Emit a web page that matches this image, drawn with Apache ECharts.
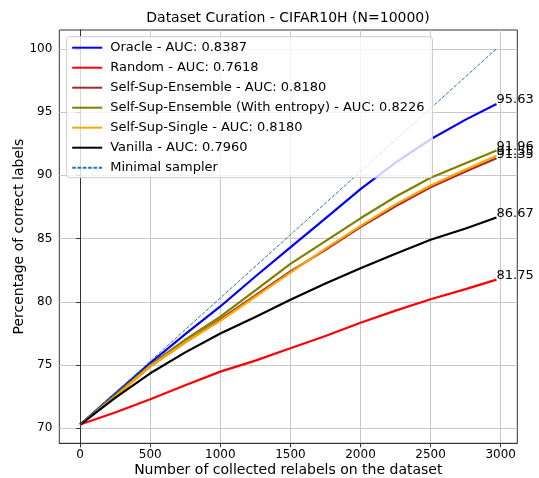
<!DOCTYPE html>
<html>
<head>
<meta charset="utf-8">
<script src="https://cdn.jsdelivr.net/npm/echarts@6/dist/echarts.min.js"></script>
<style>html,body{margin:0;padding:0;background:#fff}#c{width:539px;height:478px}</style>
</head>
<body>
<div id="c"></div>
<script>
const xs = [0, 250, 500, 750, 1000, 1250, 1500, 1750, 2000, 2250, 2500, 2750, 2970];
const oracle = [70.3, 72.75, 75.15, 77.45, 79.63, 82.0, 84.3, 86.6, 88.9, 91.0, 92.85, 94.4, 95.63];
const random = [70.3, 71.25, 72.3, 73.4, 74.48, 75.35, 76.33, 77.3, 78.35, 79.3, 80.2, 81.0, 81.75];
const ensemble = [70.3, 72.5, 74.9, 76.8, 78.6, 80.5, 82.4, 84.1, 85.9, 87.55, 89.05, 90.3, 91.35];
const ensembleEntropy = [70.3, 72.6, 75.0, 77.0, 78.83, 80.9, 83.0, 84.8, 86.6, 88.3, 89.8, 90.95, 91.96];
const single = [70.3, 72.5, 74.9, 76.8, 78.5, 80.4, 82.3, 84.2, 86.0, 87.7, 89.2, 90.45, 91.55];
const vanilla = [70.3, 72.4, 74.35, 76.0, 77.5, 78.8, 80.16, 81.45, 82.66, 83.8, 84.9, 85.8, 86.67];
const minimalX = [0, 2970];
const minimalY = [70.3, 100];
const xTicks = [0, 500, 1000, 1500, 2000, 2500, 3000];
const yTicks = [70, 75, 80, 85, 90, 95, 100];
const names = [
  'Oracle - AUC: 0.8387',
  'Random - AUC: 0.7618',
  'Self-Sup-Ensemble - AUC: 0.8180',
  'Self-Sup-Ensemble (With entropy) - AUC: 0.8226',
  'Self-Sup-Single - AUC: 0.8180',
  'Vanilla - AUC: 0.7960',
  'Minimal sampler'
];
const colors = ['#0000ff', '#ff0000', '#a52a2a', '#808000', '#ffa500', '#000000', '#1f77b4'];
const seriesValues = [oracle, random, ensemble, ensembleEntropy, single, vanilla];

const FONT = 'DejaVu Sans';
const pairs = (xa, ya) => xa.map((x, i) => [x, ya[i]]);

const series = seriesValues.map((vals, i) => ({
  name: names[i],
  type: 'line',
  data: pairs(xs, vals),
  symbol: 'none',
  lineStyle: { color: colors[i], width: 2.2 },
  itemStyle: { color: colors[i] },
  z: 2 + i * 0.01,
  endLabel: {
    show: true,
    formatter: p => p.value[1].toFixed(2),
    color: '#000',
    fontFamily: FONT,
    fontSize: 13,
    distance: 0,
    offset: [0, -4]
  }
}));
series.push({
  name: names[6],
  type: 'line',
  data: pairs(minimalX, minimalY),
  symbol: 'none',
  lineStyle: { color: colors[6], width: 1, type: [3.7, 1.6] },
  itemStyle: { color: colors[6] },
  z: 3
});

const chart = echarts.init(document.getElementById('c'), null, { renderer: 'canvas' });
chart.setOption({
  animation: false,
  backgroundColor: '#fff',
  textStyle: { fontFamily: FONT },
  title: {
    text: 'Dataset Curation - CIFAR10H (N=10000)',
    left: 288, top: 11, textAlign: 'center', padding: 0,
    textStyle: { fontFamily: FONT, fontSize: 14, fontWeight: 'normal', color: '#000' }
  },
  grid: {
    left: 59.3, right: 21.7, top: 30, bottom: 34.7,
    show: true, borderColor: '#333', borderWidth: 1, backgroundColor: 'transparent',
    outerBoundsMode: 'none', containLabel: false
  },
  legend: {
    orient: 'vertical',
    left: 66.7, top: 36.7,
    padding: [4, 8, 3, 4.5],
    itemWidth: 30, itemHeight: 14, itemGap: 6,
    backgroundColor: 'rgba(255,255,255,0.8)',
    borderColor: '#cccccc', borderWidth: 1, borderRadius: 3,
    itemStyle: { opacity: 0 },
    textStyle: { fontFamily: FONT, fontSize: 13, color: '#000', lineHeight: 14, padding: [0, 0, 0, 3] },
    data: names
  },
  xAxis: {
    type: 'value', min: -148.5, max: 3118.5,
    name: 'Number of collected relabels on the dataset',
    nameLocation: 'middle', nameGap: 20, nameMoveOverlap: false,
    nameTextStyle: { fontFamily: FONT, fontSize: 14, color: '#000' },
    axisLine: { show: true, lineStyle: { color: '#333', width: 1 } },
    axisTick: { show: true, customValues: xTicks, length: 4, lineStyle: { color: '#333' } },
    axisLabel: { customValues: xTicks, margin: 6, fontFamily: FONT, fontSize: 12, color: '#000',
      formatter: v => String(v) },
    splitLine: { show: true, lineStyle: { color: '#c8c8c8', width: 1 } }
  },
  yAxis: {
    type: 'value', min: 68.815, max: 101.485,
    name: 'Percentage of correct labels',
    nameLocation: 'middle', nameGap: 33, nameMoveOverlap: false,
    nameTextStyle: { fontFamily: FONT, fontSize: 14, color: '#000' },
    axisLine: { show: true, lineStyle: { color: '#333', width: 1 } },
    axisTick: { show: true, customValues: yTicks, length: 4, lineStyle: { color: '#333' } },
    axisLabel: { customValues: yTicks, margin: 7, fontFamily: FONT, fontSize: 12, color: '#000',
      formatter: v => String(v) },
    splitLine: { show: true, lineStyle: { color: '#c8c8c8', width: 1 } }
  },
  series: series
});
</script>
</body>
</html>
